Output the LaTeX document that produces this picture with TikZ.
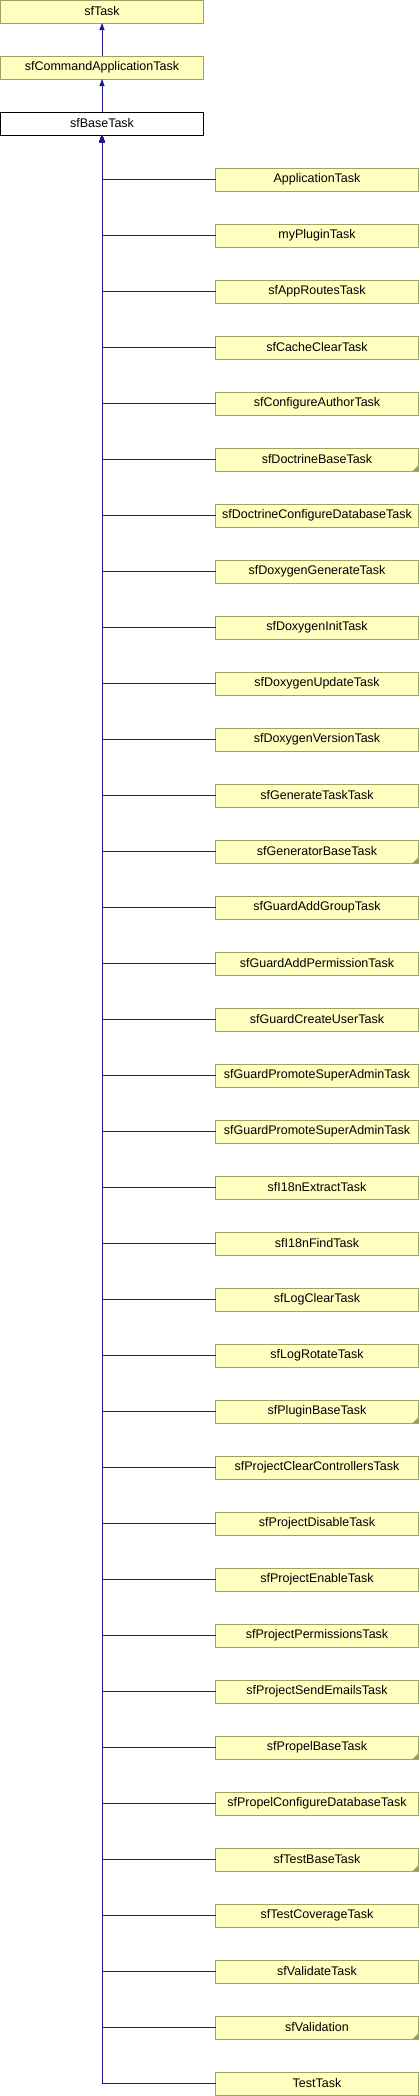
\documentclass[tikz,border=0pt]{standalone}
\usepackage{fontspec}
\setmainfont{Liberation Sans}
\usepackage{xcolor}
\definecolor{taskfill}{RGB}{255,255,192}
\definecolor{taskline}{RGB}{160,160,96}
\definecolor{edgeblue}{RGB}{25,25,140}
\usepackage{tikz}
\usetikzlibrary{arrows.meta}
\tikzset{
  classbox/.style={rectangle,draw=taskline,fill=taskfill,line width=1pt,
                   minimum width=203pt,minimum height=23pt,inner sep=0pt,
                   outer sep=0pt,font=\fontsize{12.5}{14}\selectfont},
  basebox/.style ={classbox,draw=black,fill=white},
  inherit/.style ={-{Triangle[length=7pt,width=5pt]},line width=1pt,draw=edgeblue},
  truncmark/.style={fill=taskline},
}
\begin{document}
\begin{tikzpicture}[x=1pt,y=-1pt]
  \useasboundingbox (0,0) rectangle (420,2096);
  % parent chain
  \node[classbox] (task) at (102,11.5) {sfTask};
  \node[classbox] (cmdapp) at (102,67.5) {sfCommandApplicationTask};
  \node[basebox] (base) at (102,123.5) {sfBaseTask};
  \draw[inherit] (cmdapp) -- (task);
  \draw[inherit] (base) -- (cmdapp);
  % derived tasks, 1 = box has a truncation mark
  \foreach \name/\trunc [count=\i] in {
      ApplicationTask/0, myPluginTask/0, sfAppRoutesTask/0, sfCacheClearTask/0,
      sfConfigureAuthorTask/0, sfDoctrineBaseTask/1, sfDoctrineConfigureDatabaseTask/0,
      sfDoxygenGenerateTask/0, sfDoxygenInitTask/0, sfDoxygenUpdateTask/0,
      sfDoxygenVersionTask/0, sfGenerateTaskTask/0, sfGeneratorBaseTask/1,
      sfGuardAddGroupTask/0, sfGuardAddPermissionTask/0, sfGuardCreateUserTask/0,
      sfGuardPromoteSuperAdminTask/0, sfGuardPromoteSuperAdminTask/0,
      sfI18nExtractTask/0, sfI18nFindTask/0, sfLogClearTask/0, sfLogRotateTask/0,
      sfPluginBaseTask/1, sfProjectClearControllersTask/0, sfProjectDisableTask/0,
      sfProjectEnableTask/0, sfProjectPermissionsTask/0, sfProjectSendEmailsTask/0,
      sfPropelBaseTask/1, sfPropelConfigureDatabaseTask/0, sfTestBaseTask/1,
      sfTestCoverageTask/0, sfValidateTask/0, sfValidation/1, TestTask/0} {
    \node[classbox] (sub\i) at (317,179.5+56*\i-56) {\name};
    \ifnum\trunc=1
      \fill[truncmark] (sub\i.south east) -- ++(-6,0) -- ++(6,-6) -- cycle;
    \fi
    \draw[inherit] (sub\i.west) -| (base.south);
  }
\end{tikzpicture}
\end{document}
